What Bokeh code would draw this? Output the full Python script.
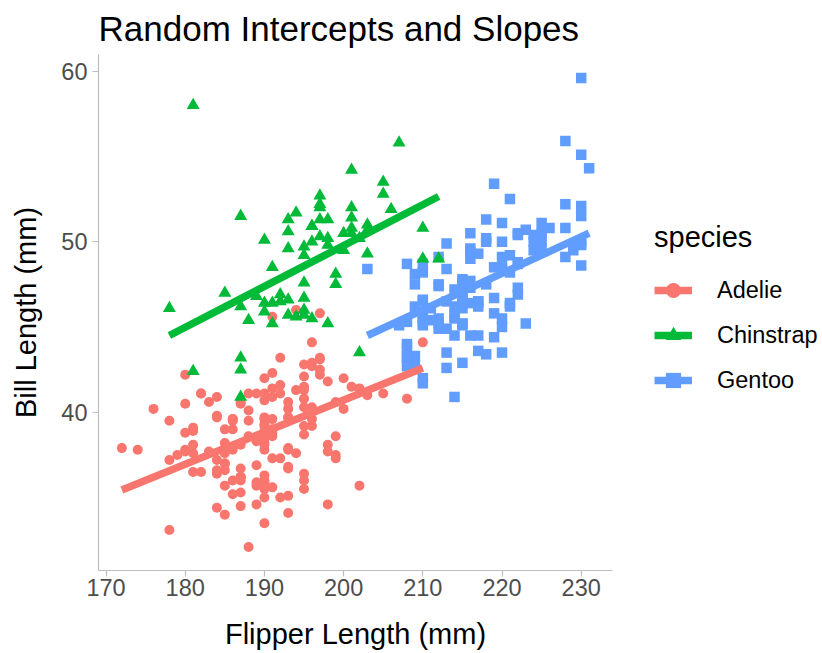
from bokeh.plotting import figure
from bokeh.layouts import row
from bokeh.models import Range1d, Legend, LegendItem, FixedTicker, ColumnDataSource
from bokeh.embed import file_html
from bokeh.resources import INLINE

# Species, colours and marker shapes
species = ["Adelie", "Chinstrap", "Gentoo"]
colors = ["#F8766D", "#00BA38", "#619CFF"]
markers = ["circle", "triangle", "square"]

# Adelie: flipper length (mm) and bill length (mm)
adelie_flipper = [181, 186, 195, 193, 190, 181, 195, 193, 190, 186, 180, 182, 191, 198, 185, 195, 197, 184, 194, 174,
                  180, 189, 185, 180, 187, 183, 187, 172, 180, 178, 178, 188, 184, 195, 196, 190, 180, 181, 184, 182,
                  195, 186, 196, 185, 190, 182, 179, 190, 191, 186, 188, 190, 200, 187, 191, 186, 193, 181, 194, 185,
                  195, 185, 192, 184, 192, 195, 188, 190, 198, 190, 190, 196, 197, 190, 195, 191, 184, 187, 195, 189,
                  196, 187, 193, 191, 194, 190, 189, 189, 190, 202, 205, 185, 186, 187, 208, 190, 196, 178, 192, 192,
                  203, 183, 190, 193, 184, 199, 190, 181, 197, 198, 191, 193, 197, 191, 196, 188, 199, 189, 189, 187,
                  198, 176, 202, 186, 199, 191, 195, 191, 210, 190, 197, 193, 199, 187, 190, 191, 200, 185, 193, 193,
                  187, 188, 190, 192, 185, 190, 184, 195, 193, 187, 201]
adelie_bill = [39.1, 39.5, 40.3, 36.7, 39.3, 38.9, 39.2, 34.1, 42.0, 37.8, 37.8, 41.1, 38.6, 34.6, 36.6, 38.7, 42.5, 34.4, 46.0, 37.8,
               37.7, 35.9, 38.2, 38.8, 35.3, 40.6, 40.5, 37.9, 40.5, 39.5, 37.2, 39.5, 40.9, 36.4, 39.2, 38.8, 42.2, 37.6, 39.8, 36.5,
               40.8, 36.0, 44.1, 37.0, 39.6, 41.1, 37.5, 36.0, 42.3, 39.6, 40.1, 35.0, 42.0, 34.5, 41.4, 39.0, 40.6, 36.5, 37.6, 35.7,
               41.3, 37.6, 41.1, 36.4, 41.6, 35.5, 41.1, 35.9, 41.8, 33.5, 39.7, 39.6, 45.8, 35.5, 42.8, 40.9, 37.2, 36.2, 42.1, 34.6,
               42.9, 36.7, 35.1, 37.3, 41.3, 36.3, 36.9, 38.3, 38.9, 35.7, 41.1, 34.0, 39.6, 36.2, 40.8, 38.1, 40.3, 33.1, 43.2, 35.0,
               41.0, 37.7, 37.8, 37.9, 39.7, 38.6, 38.2, 38.1, 43.2, 38.1, 45.6, 39.7, 42.2, 39.6, 42.7, 38.6, 37.3, 35.7, 41.1, 36.2,
               37.7, 40.2, 41.4, 35.2, 40.6, 38.8, 41.5, 39.0, 44.1, 38.5, 43.1, 36.8, 37.5, 38.1, 41.1, 35.6, 40.2, 37.0, 39.7, 40.2,
               40.6, 32.1, 40.7, 37.3, 39.0, 39.2, 36.6, 36.0, 37.8, 36.0, 41.5]

# Chinstrap
chinstrap_flipper = [192, 196, 193, 188, 197, 198, 178, 197, 195, 198, 193, 194, 185, 201, 190, 201, 197, 181, 190, 195,
                     181, 191, 187, 193, 195, 197, 200, 200, 191, 205, 187, 201, 187, 203, 195, 199, 195, 192, 205, 210,
                     187, 196, 196, 196, 201, 190, 212, 187, 198, 199, 201, 193, 203, 197, 191, 203, 202, 194, 206, 189,
                     195, 207, 202, 193, 210, 198]
chinstrap_bill = [46.5, 50.0, 51.3, 45.4, 52.7, 45.2, 46.1, 51.3, 46.0, 51.3, 46.6, 51.7, 47.0, 52.0, 45.9, 50.5, 50.3, 58.0, 46.4, 49.2,
                  42.4, 48.5, 43.2, 50.6, 46.7, 52.0, 50.5, 49.5, 46.4, 52.8, 40.9, 54.2, 42.5, 51.0, 49.7, 47.5, 47.6, 46.9, 53.5, 49.0,
                  46.2, 50.9, 45.5, 50.9, 50.8, 50.1, 49.0, 51.5, 49.8, 48.1, 51.4, 45.7, 50.7, 52.2, 45.2, 49.3, 50.2, 45.6, 51.9, 46.8,
                  45.7, 55.8, 43.5, 49.6, 50.8, 50.2]

# Gentoo
gentoo_flipper = [211, 230, 210, 218, 215, 210, 211, 219, 209, 215, 214, 216, 214, 213, 210, 217, 210, 221, 209, 222,
                  218, 215, 213, 215, 215, 215, 216, 215, 210, 220, 222, 209, 207, 230, 220, 220, 213, 219, 208, 208,
                  208, 225, 210, 216, 222, 217, 210, 225, 213, 215, 210, 220, 210, 225, 217, 220, 208, 220, 208, 224,
                  208, 221, 214, 231, 219, 230, 214, 229, 220, 223, 216, 221, 221, 217, 216, 230, 209, 220, 215, 223,
                  212, 221, 212, 224, 212, 228, 218, 218, 212, 230, 218, 228, 212, 224, 214, 226, 216, 222, 203, 225,
                  219, 228, 215, 228, 216, 215, 210, 219, 208, 209, 216, 229, 213, 230, 217, 230, 217, 222, 214, 215,
                  222, 212, 213]
gentoo_bill = [46.1, 50.0, 48.7, 50.0, 47.6, 46.5, 45.4, 46.7, 43.3, 46.8, 40.9, 49.0, 45.5, 48.4, 45.8, 49.3, 42.0, 49.2, 46.2, 48.7,
               50.2, 45.1, 46.5, 46.3, 42.9, 46.1, 44.5, 47.8, 48.2, 50.0, 47.3, 42.8, 45.1, 59.6, 49.1, 48.4, 42.6, 44.4, 44.0, 48.7,
               42.7, 49.6, 45.3, 49.6, 50.5, 43.6, 45.5, 50.5, 44.9, 45.2, 46.6, 48.5, 45.1, 50.1, 46.5, 45.0, 43.8, 45.5, 43.2, 50.4,
               45.3, 46.2, 45.7, 54.3, 45.8, 49.8, 46.2, 49.5, 43.5, 50.7, 47.7, 46.4, 48.2, 46.5, 46.4, 48.6, 47.5, 51.1, 45.2, 45.2,
               49.1, 52.5, 47.4, 50.0, 44.9, 50.8, 43.4, 51.3, 47.5, 52.1, 47.5, 52.2, 45.5, 49.5, 44.5, 50.8, 49.4, 46.9, 48.4, 51.1,
               48.5, 55.9, 47.2, 49.1, 47.3, 46.8, 41.7, 53.4, 43.3, 48.1, 50.5, 49.8, 43.5, 51.5, 46.2, 55.1, 44.5, 48.8, 47.2, 46.8,
               50.4, 45.2, 49.9]

# Fitted lines from the random intercepts and slopes model (endpoints per species)
fit_x_start = [172, 178, 203]
fit_x_end = [210, 212, 231]
fit_y_start = [35.45, 44.5, 44.5]
fit_y_end = [42.6, 52.65, 50.5]

# Axis ticks
x_ticks = [170, 180, 190, 200, 210, 220, 230]
y_ticks = [40, 50, 60]

points = {
    "Adelie": (adelie_flipper, adelie_bill),
    "Chinstrap": (chinstrap_flipper, chinstrap_bill),
    "Gentoo": (gentoo_flipper, gentoo_bill),
}
marker_sizes = {"Adelie": 10, "Chinstrap": 13, "Gentoo": 10.5}
LINE_W = 7.5

FONT = "Liberation Sans"

p = figure(
    width=630, height=653,
    output_backend="svg", toolbar_location=None,
    x_range=Range1d(169.05, 233.95), y_range=Range1d(30.725, 60.975),
    min_border_left=98, min_border_right=18, min_border_top=54, min_border_bottom=83,
    title="Random Intercepts and Slopes",
)
p.background_fill_color = "white"
p.border_fill_color = "white"
p.outline_line_color = None
p.grid.visible = False

p.title.text_font = FONT
p.title.text_font_size = "35px"
p.title.text_font_style = "normal"
p.title.text_color = "black"
p.title.align = "left"
p.title.standoff = 13

# Points: drawn in dataset order (Adelie, Gentoo, Chinstrap)
for sp in ["Adelie", "Gentoo", "Chinstrap"]:
    i = species.index(sp)
    fx, by = points[sp]
    src = ColumnDataSource(dict(x=fx, y=by))
    p.scatter("x", "y", source=src, marker=markers[i], size=marker_sizes[sp],
              fill_color=colors[i], line_color=None)

# Fitted lines
for i, sp in enumerate(species):
    src = ColumnDataSource(dict(x=[fit_x_start[i], fit_x_end[i]], y=[fit_y_start[i], fit_y_end[i]]))
    p.line("x", "y", source=src, line_color=colors[i], line_width=LINE_W)

# Axes
p.xaxis.ticker = FixedTicker(ticks=x_ticks)
p.yaxis.ticker = FixedTicker(ticks=y_ticks)
p.xaxis.axis_label = "Flipper Length (mm)"
p.yaxis.axis_label = "Bill Length (mm)"
for ax in (p.xaxis, p.yaxis):
    ax.axis_line_color = "#bdbdbd"
    ax.axis_line_width = 1.2
    ax.major_tick_line_color = "#bdbdbd"
    ax.major_tick_line_width = 1.2
    ax.major_tick_out = 6
    ax.major_tick_in = 0
    ax.minor_tick_line_color = None
    ax.major_label_text_font = FONT
    ax.major_label_text_font_size = "23.5px"
    ax.major_label_text_color = "#4d4d4d"
    ax.axis_label_text_font = FONT
    ax.axis_label_text_font_size = "29px"
    ax.axis_label_text_font_style = "normal"
    ax.axis_label_text_color = "black"
p.xaxis.major_label_standoff = 2
p.xaxis.axis_label_standoff = 19
p.yaxis.major_label_standoff = 5
p.yaxis.axis_label_standoff = 16

# Legend panel: a blank figure holding the species key
leg_fig = figure(
    width=192, height=653,
    output_backend="svg", toolbar_location=None,
    x_range=Range1d(0, 1), y_range=Range1d(0, 1),
    min_border=0,
)
leg_fig.axis.visible = False
leg_fig.grid.visible = False
leg_fig.outline_line_color = None
leg_fig.background_fill_color = "white"
leg_fig.border_fill_color = "white"

# Swatch renderers carry only a NaN placeholder, so nothing is drawn in the panel itself
items = []
for i, sp in enumerate(species):
    swatch = ColumnDataSource(dict(x=[float("nan")], y=[float("nan")]))
    lr = leg_fig.line("x", "y", source=swatch, line_color=colors[i], line_width=LINE_W)
    sr = leg_fig.scatter("x", "y", source=swatch, marker=markers[i], size=marker_sizes[sp],
                         fill_color=colors[i], line_color=None)
    items.append(LegendItem(label=sp, renderers=[lr, sr]))

legend = Legend(items=items, title="species", location=(24, 170))
legend.title_text_font = FONT
legend.title_text_font_size = "29px"
legend.title_text_font_style = "normal"
legend.title_text_color = "black"
legend.title_standoff = 16
legend.label_text_font = FONT
legend.label_text_font_size = "23.5px"
legend.label_text_color = "black"
legend.glyph_width = 38
legend.glyph_height = 40
legend.label_height = 40
legend.spacing = 5
legend.label_standoff = 25
legend.margin = 0
legend.padding = 8
legend.border_line_color = None
legend.background_fill_alpha = 0
leg_fig.add_layout(legend)

layout = row(p, leg_fig, spacing=0)
open("out.html", "w").write(file_html(layout, INLINE))
